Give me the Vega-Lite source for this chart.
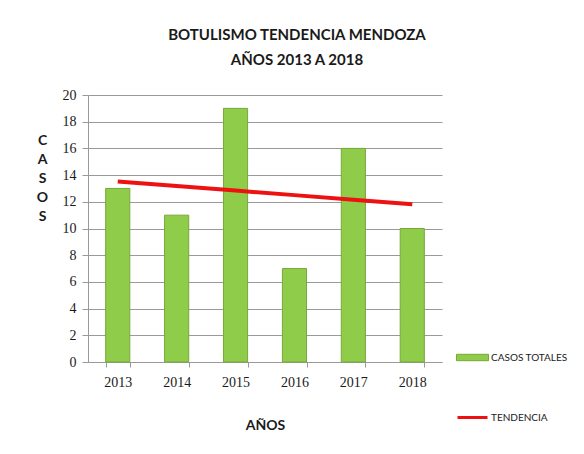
{
  "$schema": "https://vega.github.io/schema/vega-lite/v6.json",
  "width": 354,
  "height": 267,
  "autosize": {"type": "none"},
  "padding": {"left": 88, "top": 95, "right": 142, "bottom": 92},
  "background": "white",
  "title": {
    "text": ["BOTULISMO TENDENCIA MENDOZA", "AÑOS 2013 A 2018"],
    "font": "Lato",
    "fontSize": 15,
    "fontWeight": "bold",
    "color": "#1a1a1a",
    "lineHeight": 25,
    "anchor": "middle",
    "dx": 32,
    "offset": 20
  },
  "data": {
    "values": [
      {"year": "2013", "casos": 13, "tendencia": 13.52, "s1": "CASOS TOTALES", "s2": "TENDENCIA"},
      {"year": "2014", "casos": 11, "tendencia": 13.18, "s1": "CASOS TOTALES", "s2": "TENDENCIA"},
      {"year": "2015", "casos": 19, "tendencia": 12.84, "s1": "CASOS TOTALES", "s2": "TENDENCIA"},
      {"year": "2016", "casos": 7, "tendencia": 12.50, "s1": "CASOS TOTALES", "s2": "TENDENCIA"},
      {"year": "2017", "casos": 16, "tendencia": 12.15, "s1": "CASOS TOTALES", "s2": "TENDENCIA"},
      {"year": "2018", "casos": 10, "tendencia": 11.81, "s1": "CASOS TOTALES", "s2": "TENDENCIA"}
    ]
  },
  "encoding": {
    "x": {
      "field": "year",
      "type": "nominal",
      "scale": {"paddingInner": 0.59, "paddingOuter": 0.3},
      "axis": {
        "title": "AÑOS",
        "titleFont": "Lato",
        "titleFontSize": 14,
        "titleFontWeight": "bold",
        "titleColor": "#1a1a1a",
        "titlePadding": 29,
        "labelAngle": 0,
        "labelFont": "Liberation Serif",
        "labelFontSize": 14,
        "labelColor": "#1a1a1a",
        "labelPadding": 8,
        "tickBand": "extent",
        "tickSize": 5,
        "tickColor": "#999999",
        "domainColor": "#999999"
      }
    },
    "y": {
      "type": "quantitative",
      "scale": {"domain": [0, 20]},
      "axis": {
        "values": [0, 2, 4, 6, 8, 10, 12, 14, 16, 18, 20],
        "labelOverlap": false,
        "title": ["C", "A", "S", "O", "S"],
        "titleAngle": 0,
        "titleAlign": "center",
        "titleBaseline": "top",
        "titleX": -46,
        "titleY": 38,
        "titleLineHeight": 19,
        "titleFont": "Lato",
        "titleFontSize": 14,
        "titleFontWeight": "bold",
        "titleColor": "#1a1a1a",
        "labelFont": "Liberation Serif",
        "labelFontSize": 14,
        "labelColor": "#1a1a1a",
        "labelPadding": 6,
        "grid": true,
        "gridColor": "#999999",
        "tickColor": "#999999",
        "tickSize": 6,
        "domainColor": "#999999"
      }
    }
  },
  "layer": [
    {
      "mark": {"type": "bar", "stroke": "#78a83a", "strokeWidth": 1},
      "encoding": {
        "y": {"field": "casos"},
        "fill": {
          "field": "s1",
          "type": "nominal",
          "scale": {"range": ["#8fcc4a"]},
          "legend": {
            "title": null,
            "orient": "none",
            "legendX": 368,
            "legendY": 246,
            "symbolType": "M-1,-0.2H1V0.2H-1Z",
            "symbolSize": 1024,
            "symbolStrokeColor": "#78a83a",
            "symbolStrokeWidth": 1,
            "labelFont": "Lato",
            "labelFontSize": 10,
            "labelColor": "#1a1a1a",
            "labelOffset": 2
          }
        }
      }
    },
    {
      "mark": {"type": "line", "strokeWidth": 4},
      "encoding": {
        "y": {"field": "tendencia"},
        "stroke": {
          "field": "s2",
          "type": "nominal",
          "scale": {"range": ["#ee1111"]},
          "legend": {
            "title": null,
            "orient": "none",
            "legendX": 368,
            "legendY": 306,
            "symbolType": "stroke",
            "symbolSize": 900,
            "symbolStrokeWidth": 3,
            "labelFont": "Lato",
            "labelFontSize": 10,
            "labelColor": "#1a1a1a",
            "labelOffset": 2
          }
        }
      }
    }
  ],
  "config": {
    "view": {"stroke": null}
  }
}
